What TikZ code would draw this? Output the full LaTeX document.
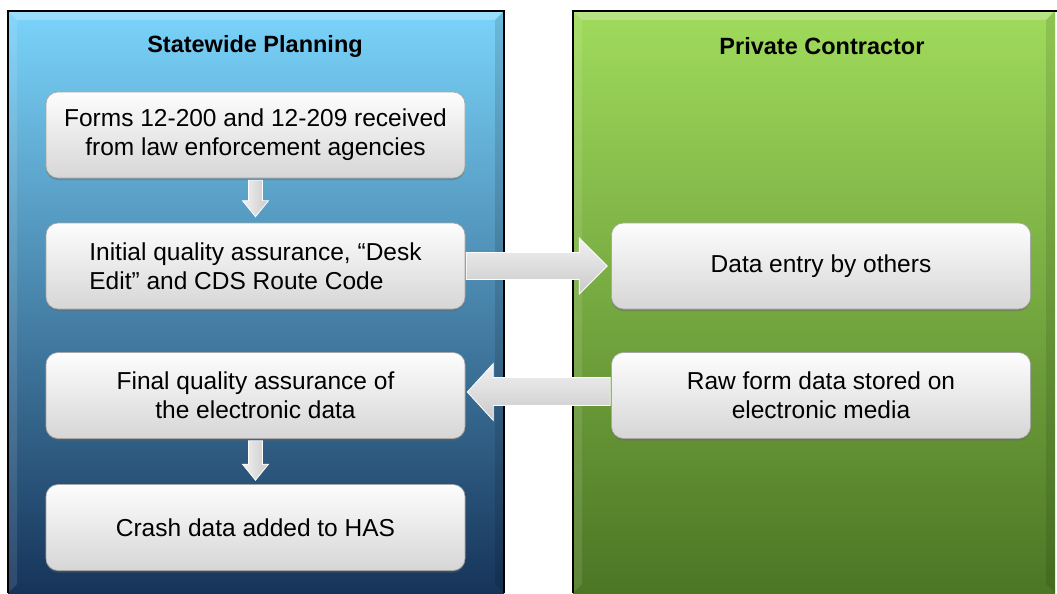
\documentclass[tikz,border=0pt]{standalone}
\usepackage{fontspec}
\setmainfont{Liberation Sans}
\usetikzlibrary{calc,shadows}

\definecolor{blueTop}{HTML}{7AD4FB}
\definecolor{blueMid}{HTML}{5AAEDC}
\definecolor{blueBot}{HTML}{16345A}
\definecolor{greenTop}{HTML}{A0DB5C}
\definecolor{greenMid}{HTML}{79B043}
\definecolor{greenBot}{HTML}{4C7625}
\definecolor{boxTop}{HTML}{FDFDFD}
\definecolor{boxBot}{HTML}{D6D6D6}
\definecolor{arrLight}{HTML}{F2F2F2}
\definecolor{arrDark}{HTML}{C9C9C9}

\tikzset{
  x=1pt, y=-1pt,
  panel/.style={draw=black, line width=1.2pt},
  paneltitle/.style={font=\fontsize{23.5}{27}\selectfont\bfseries, text=black},
  stepbox/.style={rounded corners=12pt, minimum width=419pt, minimum height=86pt,
    inner sep=0pt, draw=gray!70, line width=0.6pt,
    top color=boxTop, bottom color=boxBot,
    drop shadow={shadow xshift=0pt, shadow yshift=-2pt, opacity=0.45, fill=black!60},
    font=\fontsize{24.5}{29}\selectfont, align=center, text=black},
  flowarrow/.style={draw=white, line width=0.8pt, top color=arrLight, bottom color=arrDark},
  downarrow/.style={draw=white, line width=0.8pt, left color=arrLight, right color=arrDark},
}

\begin{document}
\begin{tikzpicture}
\useasboundingbox (0,0) rectangle (1057,594);

% ---- lanes ----
\shade[top color=blueTop, middle color=blueMid, bottom color=blueBot] (8,11) rectangle (504,593);
\fill[white, opacity=0.25] (8,11) -- (504,11) -- (495,20) -- (17,20) -- cycle;
\fill[black, opacity=0.12] (504,11) -- (504,593) -- (495,584) -- (495,20) -- cycle;
\fill[white, opacity=0.10] (8,11) -- (8,593) -- (17,584) -- (17,20) -- cycle;
\draw[panel] (8,593) -- (8,11) -- (504,11) -- (504,593);

\shade[top color=greenTop, middle color=greenMid, bottom color=greenBot] (573,11) rectangle (1055,593);
\fill[white, opacity=0.25] (573,11) -- (1055,11) -- (1046,20) -- (582,20) -- cycle;
\fill[black, opacity=0.10] (1055,11) -- (1055,593) -- (1046,584) -- (1046,20) -- cycle;
\fill[white, opacity=0.10] (573,11) -- (573,593) -- (582,584) -- (582,20) -- cycle;
\draw[panel] (573,593) -- (573,11) -- (1057,11);

\node[paneltitle] (t1) at (255,46) {Statewide Planning};
\node[paneltitle] (t2) at (822,46) {Private Contractor};

% ---- steps ----
\node[stepbox] (b1) at (255.5,135) {Forms 12-200 and 12-209 received\\from law enforcement agencies};
\node[stepbox, align=left] (b2) at (255.5,266) {Initial quality assurance, “Desk\\Edit” and CDS Route Code};
\node[stepbox] (b3) at (255.5,395.5) {Final quality assurance of\\the electronic data};
\node[stepbox] (b4) at (255.5,527.5) {Crash data added to HAS};

\node[stepbox] (pa) at (821,266) {Data entry by others};
\node[stepbox] (pb) at (821,395.5) {Raw form data stored on\\electronic media};

% down arrow b1 -> b2
\path[downarrow]
  ($(b1.south)+(-7,2)$) -- ($(b1.south)+(7,2)$) -- ($(b2.north)+(7,-22)$)
  -- ($(b2.north)+(13,-22)$) -- ($(b2.north)+(0,-6)$) -- ($(b2.north)+(-13,-22)$)
  -- ($(b2.north)+(-7,-22)$) -- cycle;
% down arrow b3 -> b4
\path[downarrow]
  ($(b3.south)+(-7,2)$) -- ($(b3.south)+(7,2)$) -- ($(b4.north)+(7,-20)$)
  -- ($(b4.north)+(13,-20)$) -- ($(b4.north)+(0,-4)$) -- ($(b4.north)+(-13,-20)$)
  -- ($(b4.north)+(-7,-20)$) -- cycle;

% right arrow b2 -> pa
\path[flowarrow]
  ($(b2.east)+(1,-13.5)$) -- ($(pa.west)+(-32,-13.5)$) -- ($(pa.west)+(-32,-28)$)
  -- ($(pa.west)+(-4,0)$) -- ($(pa.west)+(-32,28)$) -- ($(pa.west)+(-32,13.5)$)
  -- ($(b2.east)+(1,13.5)$) -- cycle;

% left arrow pb -> b3
\path[flowarrow]
  ($(pb.west)+(-1,-18)$) -- ($(b3.east)+(28,-18)$) -- ($(b3.east)+(28,-32)$)
  -- ($(b3.east)+(2,-3.5)$) -- ($(b3.east)+(28,25)$) -- ($(b3.east)+(28,10)$)
  -- ($(pb.west)+(-1,10)$) -- cycle;

\end{tikzpicture}
\end{document}
